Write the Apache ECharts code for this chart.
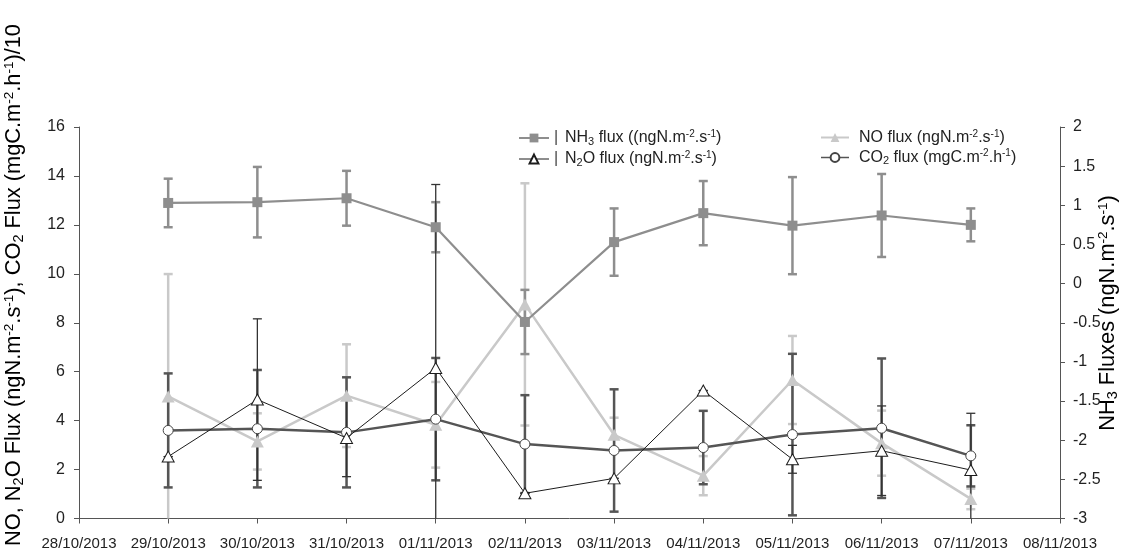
<!DOCTYPE html>
<html>
<head>
<meta charset="utf-8">
<script src="https://cdn.jsdelivr.net/npm/echarts@6/dist/echarts.min.js"></script>
<style>
  html, body { margin: 0; padding: 0; background: #fff; }
  #chart { width: 1126px; height: 553px; }
</style>
</head>
<body>
<div id="chart"></div>
<script>
// Axis ticks (one per day) and sampling days
const axisDates = ['28/10/2013', '29/10/2013', '30/10/2013', '31/10/2013', '01/11/2013', '02/11/2013',
                   '03/11/2013', '04/11/2013', '05/11/2013', '06/11/2013', '07/11/2013', '08/11/2013'];
const sampleDates = ['29/10/2013', '30/10/2013', '31/10/2013', '01/11/2013', '02/11/2013',
                     '03/11/2013', '04/11/2013', '05/11/2013', '06/11/2013', '07/11/2013'];

// NH3 flux (right axis, ngN.m-2.s-1) with standard deviation
const nh3 = [1.03, 1.04, 1.09, 0.72, -0.49, 0.53, 0.90, 0.74, 0.87, 0.75];
const nh3Err = [0.31, 0.45, 0.35, 0.32, 0.41, 0.43, 0.41, 0.62, 0.53, 0.21];

// NO flux (left axis, ngN.m-2.s-1)
const no = [4.99, 3.15, 5.02, 3.83, 8.75, 3.42, 1.75, 5.66, 3.08, 0.80];
const noErr = [5.0, 1.15, 2.1, 1.75, 4.95, 0.7, 0.8, 1.8, 1.33, 0.42];

// N2O flux (left axis, ngN.m-2.s-1)
const n2o = [2.53, 4.86, 3.29, 6.15, 1.03, 1.64, 5.23, 2.42, 2.77, 1.98];
const n2oErr = [0, 3.3, 1.58, 7.5, 0, 0, 0, 0.57, 1.83, 2.32];

// CO2 flux / 10 (left axis, mgC.m-2.h-1)
const co2 = [3.60, 3.67, 3.52, 4.06, 3.04, 2.78, 2.90, 3.43, 3.69, 2.56];
const co2Err = [2.33, 2.4, 2.25, 2.5, 2.0, 2.5, 1.5, 3.3, 2.85, 1.25];

const FONT = "'Liberation Sans', Arial, sans-serif";
const AXIS_COLOR = '#555555';
const TEXT_COLOR = '#222222';

const C_NH3 = '#8e8e8e';
const C_NO = '#c9c9c9';
const C_N2O = '#1c1c1c';
const C_CO2 = '#555555';

// Vertical error bars with caps, clipped to the plotting area
function errorBars(id, values, errs, yAxisIndex, color, width) {
  return {
    type: 'custom',
    id: id,
    yAxisIndex: yAxisIndex,
    silent: true,
    z: 1,
    data: sampleDates.map((d, i) => [d, values[i], errs[i]]),
    encode: { x: 0, y: 1 },
    renderItem: function (params, api) {
      const cs = params.coordSys;
      const cat = api.value(0);
      const v = api.value(1);
      const e = api.value(2);
      const x = api.coord([cat, v])[0];
      const hi = api.coord([cat, v + e])[1];
      const lo = api.coord([cat, v - e])[1];
      const top = cs.y, bottom = cs.y + cs.height;
      const y1 = Math.max(hi, top), y2 = Math.min(lo, bottom);
      const style = { stroke: color, lineWidth: width };
      const children = [{ type: 'line', shape: { x1: x, y1: y1, x2: x, y2: y2 }, style: style }];
      const hw = 4.5;
      if (hi >= top) children.push({ type: 'line', shape: { x1: x - hw, y1: hi, x2: x + hw, y2: hi }, style: style });
      if (lo <= bottom) children.push({ type: 'line', shape: { x1: x - hw, y1: lo, x2: x + hw, y2: lo }, style: style });
      return { type: 'group', children: children };
    }
  };
}

function pairs(values) {
  return sampleDates.map((d, i) => [d, values[i]]);
}

const richScript = {
  t: { fontSize: 16, fontFamily: FONT, color: TEXT_COLOR },
  sub: { fontSize: 11, fontFamily: FONT, color: TEXT_COLOR, verticalAlign: 'bottom', padding: [7, 0, 0, 0] },
  sup: { fontSize: 10, fontFamily: FONT, color: TEXT_COLOR, verticalAlign: 'top', padding: [0, 0, 7, 0] },
  pipe: { fontSize: 16, fontFamily: FONT, color: '#444', width: 11 },
  sp: { width: 5 }
};

const legendText = {
  NH3: '{pipe||}{t|NH}{sub|3}{t| flux ((ngN.m}{sup|-2}{t|.s}{sup|-1}{t|)}',
  N2O: '{pipe||}{t|N}{sub|2}{t|O flux (ngN.m}{sup|-2}{t|.s}{sup|-1}{t|)}',
  NO: '{sp|}{t|NO flux (ngN.m}{sup|-2}{t|.s}{sup|-1}{t|)}',
  CO2: '{sp|}{t|CO}{sub|2}{t| flux (mgC.m}{sup|-2}{t|.h}{sup|-1}{t|)}'
};

const titleRich = {
  t: { fontSize: 21.8, fontFamily: FONT, color: TEXT_COLOR },
  sub: { fontSize: 14.5, fontFamily: FONT, color: TEXT_COLOR, verticalAlign: 'bottom', padding: [9, 0, 0, 0] },
  sup: { fontSize: 13.5, fontFamily: FONT, color: TEXT_COLOR, verticalAlign: 'top', padding: [0, 0, 9, 0] }
};

const chart = echarts.init(document.getElementById('chart'), null, { renderer: 'canvas' });

chart.setOption({
  animation: false,
  backgroundColor: '#ffffff',
  textStyle: { fontFamily: FONT },
  grid: { left: 79, right: 66, top: 127, bottom: 34.5, containLabel: false },
  legend: [
    {
      data: ['NH3', { name: 'N2O', lineStyle: { width: 1 } }],
      orient: 'vertical',
      left: 513, top: 124,
      itemWidth: 30, itemHeight: 11, itemGap: 3,
      formatter: name => legendText[name],
      textStyle: { rich: richScript },
      selectedMode: false
    },
    {
      data: ['NO', { name: 'CO2', lineStyle: { width: 1.5 } }],
      orient: 'vertical',
      left: 815, top: 124,
      itemWidth: 28, itemHeight: 11, itemGap: 3,
      formatter: name => legendText[name],
      textStyle: { rich: richScript },
      selectedMode: false
    }
  ],
  xAxis: {
    type: 'category',
    data: axisDates,
    boundaryGap: false,
    axisLine: { lineStyle: { color: AXIS_COLOR, width: 1 } },
    axisTick: { show: true, inside: false, length: 5, alignWithLabel: true, lineStyle: { color: AXIS_COLOR } },
    axisLabel: { interval: 0, margin: 18, fontSize: 15, color: TEXT_COLOR, fontFamily: FONT },
    splitLine: { show: false }
  },
  yAxis: [
    {
      type: 'value',
      min: 0, max: 16, interval: 2,
      position: 'left',
      axisLine: { show: true, lineStyle: { color: AXIS_COLOR, width: 1 } },
      axisTick: { show: true, inside: false, length: 5, lineStyle: { color: AXIS_COLOR } },
      axisLabel: { margin: 14, fontSize: 16, color: TEXT_COLOR, fontFamily: FONT },
      splitLine: { show: false }
    },
    {
      type: 'value',
      min: -3, max: 2, interval: 0.5,
      position: 'right',
      axisLine: { show: true, lineStyle: { color: AXIS_COLOR, width: 1 } },
      axisTick: { show: true, inside: false, length: 5, lineStyle: { color: AXIS_COLOR } },
      axisLabel: { margin: 13, fontSize: 16, color: TEXT_COLOR, fontFamily: FONT },
      splitLine: { show: false }
    }
  ],
  graphic: [
    {
      type: 'text',
      x: 14, y: 285,
      rotation: Math.PI / 2,
      style: {
        text: '{t|NO, N}{sub|2}{t|O Flux (ngN.m}{sup|-2}{t|.s}{sup|-1}{t|), CO}{sub|2}{t| Flux (mgC.m}{sup|-2}{t|.h}{sup|-1}{t|)/10}',
        rich: titleRich,
        align: 'center', verticalAlign: 'middle'
      }
    },
    {
      type: 'text',
      x: 1108, y: 313,
      rotation: Math.PI / 2,
      style: {
        text: '{t|NH}{sub|3}{t| Fluxes (ngN.m}{sup|-2}{t|.s}{sup|-1}{t|)}',
        rich: titleRich,
        align: 'center', verticalAlign: 'middle'
      }
    }
  ],
  series: [
    errorBars('noErr', no, noErr, 0, C_NO, 2.5),
    errorBars('nh3Err', nh3, nh3Err, 1, C_NH3, 2.5),
    errorBars('co2Err', co2, co2Err, 0, C_CO2, 2.5),
    errorBars('n2oErr', n2o, n2oErr, 0, '#333333', 1.3),
    {
      name: 'NO', type: 'line', yAxisIndex: 0, z: 2,
      data: pairs(no),
      symbol: 'triangle', symbolSize: [13, 12],
      lineStyle: { color: C_NO, width: 2.5 },
      itemStyle: { color: C_NO, borderColor: C_NO, borderWidth: 0 }
    },
    {
      name: 'NH3', type: 'line', yAxisIndex: 1, z: 3,
      data: pairs(nh3),
      symbol: 'rect', symbolSize: 10,
      lineStyle: { color: C_NH3, width: 2.2 },
      itemStyle: { color: C_NH3, borderColor: C_NH3, borderWidth: 0 }
    },
    {
      name: 'CO2', type: 'line', yAxisIndex: 0, z: 4,
      data: pairs(co2),
      symbol: 'circle', symbolSize: 10,
      lineStyle: { color: C_CO2, width: 2.5 },
      itemStyle: { color: '#ffffff', borderColor: '#444444', borderWidth: 1 }
    },
    {
      name: 'N2O', type: 'line', yAxisIndex: 0, z: 5,
      data: pairs(n2o),
      symbol: 'triangle', symbolSize: [12, 11],
      lineStyle: { color: C_N2O, width: 1 },
      itemStyle: { color: '#ffffff', borderColor: C_N2O, borderWidth: 1 }
    }
  ]
});
</script>
</body>
</html>
